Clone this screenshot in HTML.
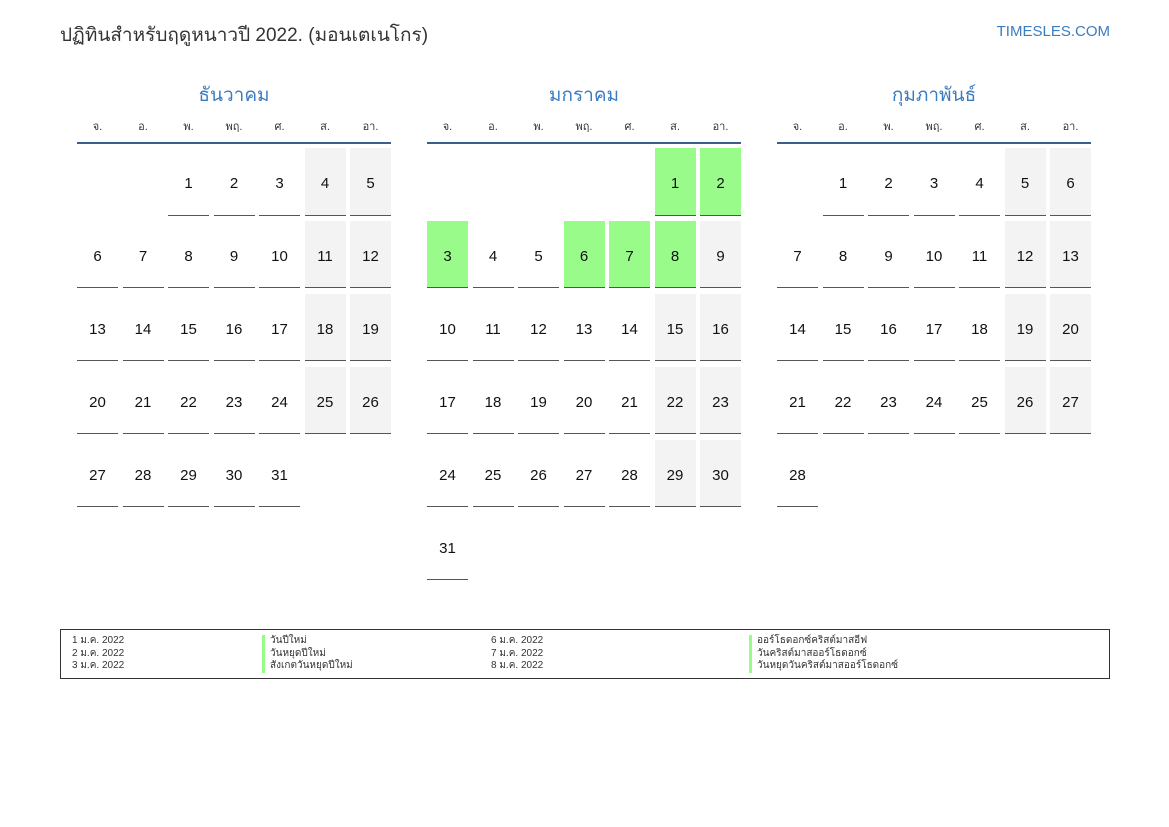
<!DOCTYPE html>
<html><head><meta charset="utf-8"><style>
body{margin:0;width:1169px;height:827px;background:#fff;position:relative;font-family:"Liberation Sans","Noto Sans CJK SC",sans-serif;overflow:hidden}
.t{position:absolute;left:60px;top:20px;font-size:19px;color:#333}
.site{position:absolute;right:59px;top:23px;font-size:15px;color:#3a7cc1}
.m{position:absolute;top:80px;width:314px}
.mt{text-align:center;font-size:19px;color:#3a7cc1;height:30px;line-height:32px}
.wd{display:grid;grid-template-columns:repeat(7,41px);column-gap:4.5px;font-size:11px;color:#333;text-align:center;height:32px;line-height:34px;border-bottom:2px solid #3a5f8a}
.g{display:grid;grid-template-columns:repeat(7,41px);column-gap:4.5px;row-gap:5.45px;margin-top:4px}
.g div{height:66.5px;line-height:71px;text-align:center;font-size:15px;color:#111}
.g div.d{border-bottom:1.5px solid #555}
.g div.w{background:#f3f3f3}
.g div.h{background:#98fb8a}
.lg{position:absolute;left:60px;top:629px;width:1048px;height:48px;border:1px solid #333;font-size:10px;color:#333}
.lg div{position:absolute;line-height:12.5px}
.bar{border-left:3px solid #98fb8a;padding-left:5px;margin-bottom:0}
</style></head><body>
<div class="t">ปฏิทินสำหรับฤดูหนาวปี 2022. (มอนเตเนโกร)</div>
<div class="site">TIMESLES.COM</div>

<div class="m" style="left:77px"><div class="mt">ธันวาคม</div>
<div class="wd"><span>จ.</span><span>อ.</span><span>พ.</span><span>พฤ.</span><span>ศ.</span><span>ส.</span><span>อา.</span></div>
<div class="g">
<div></div><div></div><div class="d">1</div><div class="d">2</div><div class="d">3</div><div class="d w">4</div><div class="d w">5</div>
<div class="d">6</div><div class="d">7</div><div class="d">8</div><div class="d">9</div><div class="d">10</div><div class="d w">11</div><div class="d w">12</div>
<div class="d">13</div><div class="d">14</div><div class="d">15</div><div class="d">16</div><div class="d">17</div><div class="d w">18</div><div class="d w">19</div>
<div class="d">20</div><div class="d">21</div><div class="d">22</div><div class="d">23</div><div class="d">24</div><div class="d w">25</div><div class="d w">26</div>
<div class="d">27</div><div class="d">28</div><div class="d">29</div><div class="d">30</div><div class="d">31</div>
</div></div>

<div class="m" style="left:427px"><div class="mt">มกราคม</div>
<div class="wd"><span>จ.</span><span>อ.</span><span>พ.</span><span>พฤ.</span><span>ศ.</span><span>ส.</span><span>อา.</span></div>
<div class="g">
<div></div><div></div><div></div><div></div><div></div><div class="d h">1</div><div class="d h">2</div>
<div class="d h">3</div><div class="d">4</div><div class="d">5</div><div class="d h">6</div><div class="d h">7</div><div class="d h">8</div><div class="d w">9</div>
<div class="d">10</div><div class="d">11</div><div class="d">12</div><div class="d">13</div><div class="d">14</div><div class="d w">15</div><div class="d w">16</div>
<div class="d">17</div><div class="d">18</div><div class="d">19</div><div class="d">20</div><div class="d">21</div><div class="d w">22</div><div class="d w">23</div>
<div class="d">24</div><div class="d">25</div><div class="d">26</div><div class="d">27</div><div class="d">28</div><div class="d w">29</div><div class="d w">30</div>
<div class="d">31</div>
</div></div>

<div class="m" style="left:777px"><div class="mt">กุมภาพันธ์</div>
<div class="wd"><span>จ.</span><span>อ.</span><span>พ.</span><span>พฤ.</span><span>ศ.</span><span>ส.</span><span>อา.</span></div>
<div class="g">
<div></div><div class="d">1</div><div class="d">2</div><div class="d">3</div><div class="d">4</div><div class="d w">5</div><div class="d w">6</div>
<div class="d">7</div><div class="d">8</div><div class="d">9</div><div class="d">10</div><div class="d">11</div><div class="d w">12</div><div class="d w">13</div>
<div class="d">14</div><div class="d">15</div><div class="d">16</div><div class="d">17</div><div class="d">18</div><div class="d w">19</div><div class="d w">20</div>
<div class="d">21</div><div class="d">22</div><div class="d">23</div><div class="d">24</div><div class="d">25</div><div class="d w">26</div><div class="d w">27</div>
<div class="d">28</div>
</div></div>

<div class="lg">
<div style="left:11px;top:5px">1 ม.ค. 2022<br>2 ม.ค. 2022<br>3 ม.ค. 2022</div>
<div style="left:201px;top:5px"><div class="bar" style="position:static">วันปีใหม่</div><div class="bar" style="position:static">วันหยุดปีใหม่</div><div class="bar" style="position:static">สังเกตวันหยุดปีใหม่</div></div>
<div style="left:430px;top:5px">6 ม.ค. 2022<br>7 ม.ค. 2022<br>8 ม.ค. 2022</div>
<div style="left:688px;top:5px"><div class="bar" style="position:static">ออร์โธดอกซ์คริสต์มาสอีฟ</div><div class="bar" style="position:static">วันคริสต์มาสออร์โธดอกซ์</div><div class="bar" style="position:static">วันหยุดวันคริสต์มาสออร์โธดอกซ์</div></div>
</div>
</body></html>
